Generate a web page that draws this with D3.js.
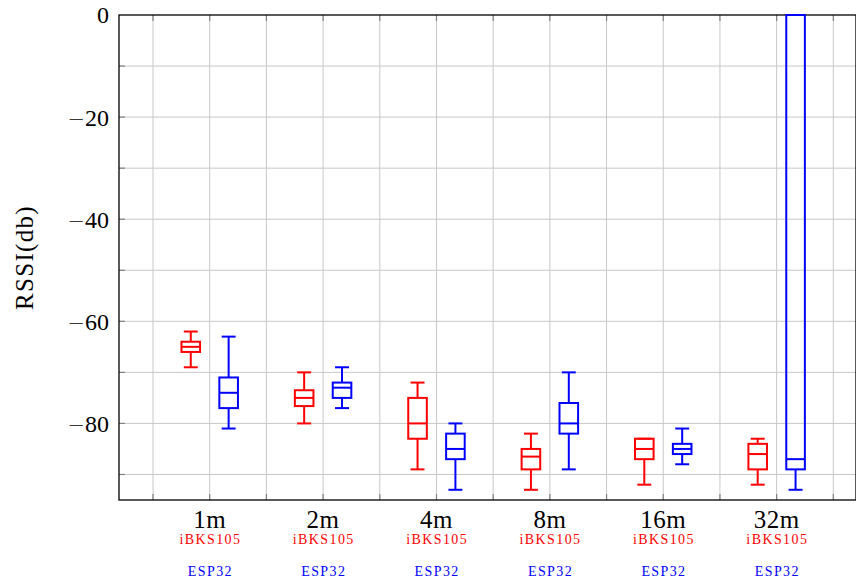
<!DOCTYPE html>
<html>
<head>
<meta charset="utf-8">
<script src="https://cdn.jsdelivr.net/npm/d3@7"></script>
<style>
  body { margin: 0; background: #fff; }
</style>
</head>
<body>
<svg id="chart" width="856" height="584" font-family="Liberation Serif, serif"></svg>
<script>
// distances and devices
const categories = ['1m', '2m', '4m', '8m', '16m', '32m']
const devices = ['iBKS105', 'ESP32']

// box stats per device, one entry per distance
const ibksMin = [-69, -80, -89, -93, -92, -92]
const ibksQ1 = [-66, -76.6, -83, -89, -87, -89]
const ibksMed = [-65, -75, -80, -86.5, -85, -86]
const ibksQ3 = [-64, -73.5, -75, -85, -83, -84]
const ibksMax = [-62, -70, -72, -82, -83, -83]

const espMin = [-81, -77, -93, -89, -88, -93]
const espQ1 = [-77, -75, -87, -82, -86, -89]
const espMed = [-74, -73, -85, -80, -85, -87]
const espQ3 = [-71, -72, -82, -76, -84, 0]
const espMax = [-63, -69, -80, -70, -81, 0]

const yTicks = [0, -20, -40, -60, -80]

const svg = d3.select('#chart')
const plotL = 119, plotR = 856, plotT = 15, plotB = 500

const x = d3.scaleLinear().domain([0.2, 6.7]).range([plotL, plotR])
const y = d3.scaleLinear().domain([-95, 0]).range([plotB, plotT])

const gridVals = d3.range(0.5, 6.6, 0.5)
const yGrid = d3.range(-90, 0, 10)

// grid
svg.append('g').selectAll('line').data(gridVals).enter().append('line')
  .attr('x1', d => x(d)).attr('x2', d => x(d))
  .attr('y1', plotT).attr('y2', plotB)
  .attr('stroke', '#c8c8c8').attr('stroke-width', 1)
svg.append('g').selectAll('line').data(yGrid).enter().append('line')
  .attr('x1', plotL).attr('x2', plotR)
  .attr('y1', d => y(d)).attr('y2', d => y(d))
  .attr('stroke', '#c8c8c8').attr('stroke-width', 1)

// small tick marks inside the frame
svg.append('g').selectAll('line').data(gridVals).enter().append('line')
  .attr('x1', d => x(d)).attr('x2', d => x(d))
  .attr('y1', plotB).attr('y2', plotB - 6)
  .attr('stroke', '#808080').attr('stroke-width', 1.2)
svg.append('g').selectAll('line').data(gridVals).enter().append('line')
  .attr('x1', d => x(d)).attr('x2', d => x(d))
  .attr('y1', plotT).attr('y2', plotT + 6)
  .attr('stroke', '#808080').attr('stroke-width', 1.2)
svg.append('g').selectAll('line').data(yGrid).enter().append('line')
  .attr('x1', plotL).attr('x2', plotL + 6)
  .attr('y1', d => y(d)).attr('y2', d => y(d))
  .attr('stroke', '#808080').attr('stroke-width', 1.2)

// frame
svg.append('rect')
  .attr('x', plotL).attr('y', plotT)
  .attr('width', plotR - plotL).attr('height', plotB - plotT)
  .attr('fill', 'none').attr('stroke', '#000').attr('stroke-width', 1.3)

// y tick labels, minus sign from DejaVu so it comes out long like TeX
const tl = svg.append('g').selectAll('text').data(yTicks).enter().append('text')
  .attr('x', plotL - 10).attr('y', d => y(d))
  .attr('dy', '0.35em')
  .attr('text-anchor', 'end')
  .attr('font-size', 24)
tl.filter(d => d < 0).append('tspan')
  .attr('font-family', 'DejaVu Sans, sans-serif')
  .attr('font-weight', 200)
  .attr('font-size', 21)
  .text('\u2212')
tl.append('tspan').text(d => Math.abs(d))

svg.append('text')
  .attr('transform', `translate(33,${(plotT + plotB) / 2}) rotate(-90)`)
  .attr('text-anchor', 'middle')
  .attr('font-size', 25)
  .attr('letter-spacing', 1.3)
  .text('RSSI(db)')

// category labels
const labels = svg.append('g').selectAll('g').data(categories).enter().append('g')
labels.append('text')
  .attr('x', (d, i) => x(i + 1)).attr('y', 528)
  .attr('text-anchor', 'middle').attr('font-size', 25)
  .attr('letter-spacing', 0.5)
  .text(d => d)
labels.append('text')
  .attr('x', (d, i) => x(i + 1) + 0.7).attr('y', 543.5)
  .attr('text-anchor', 'middle').attr('font-size', 14)
  .attr('letter-spacing', 1.4)
  .attr('fill', '#ff0000')
  .text(devices[0])
labels.append('text')
  .attr('x', (d, i) => x(i + 1) + 0.7).attr('y', 575.5)
  .attr('text-anchor', 'middle').attr('font-size', 14)
  .attr('letter-spacing', 1.4)
  .attr('fill', '#0000ff')
  .text(devices[1])

// boxes
const series = [
  { color: '#ff0000', off: -0.167, min: ibksMin, q1: ibksQ1, med: ibksMed, q3: ibksQ3, max: ibksMax },
  { color: '#0000ff', off: 0.167, min: espMin, q1: espQ1, med: espMed, q3: espQ3, max: espMax }
]
const boxW = 0.164, capW = 0.123

series.forEach(s => {
  const rows = categories.map((c, i) => ({
    pos: i + 1 + s.off, min: s.min[i], q1: s.q1[i], med: s.med[i], q3: s.q3[i], max: s.max[i]
  }))
  const g = svg.append('g').selectAll('g').data(rows).enter().append('g')
    .attr('stroke', s.color).attr('stroke-width', 2).attr('fill', 'none')

  // whiskers
  g.append('line')
    .attr('x1', d => x(d.pos)).attr('x2', d => x(d.pos))
    .attr('y1', d => y(d.q3)).attr('y2', d => y(d.max))
  g.append('line')
    .attr('x1', d => x(d.pos)).attr('x2', d => x(d.pos))
    .attr('y1', d => y(d.q1)).attr('y2', d => y(d.min))
  g.append('line')
    .attr('x1', d => x(d.pos - capW / 2)).attr('x2', d => x(d.pos + capW / 2))
    .attr('y1', d => y(d.max)).attr('y2', d => y(d.max))
  g.append('line')
    .attr('x1', d => x(d.pos - capW / 2)).attr('x2', d => x(d.pos + capW / 2))
    .attr('y1', d => y(d.min)).attr('y2', d => y(d.min))

  g.append('rect')
    .attr('x', d => x(d.pos - boxW / 2))
    .attr('width', x(boxW) - x(0))
    .attr('y', d => y(d.q3))
    .attr('height', d => y(d.q1) - y(d.q3))
  g.append('line')
    .attr('x1', d => x(d.pos - boxW / 2)).attr('x2', d => x(d.pos + boxW / 2))
    .attr('y1', d => y(d.med)).attr('y2', d => y(d.med))
})
</script>
</body>
</html>
